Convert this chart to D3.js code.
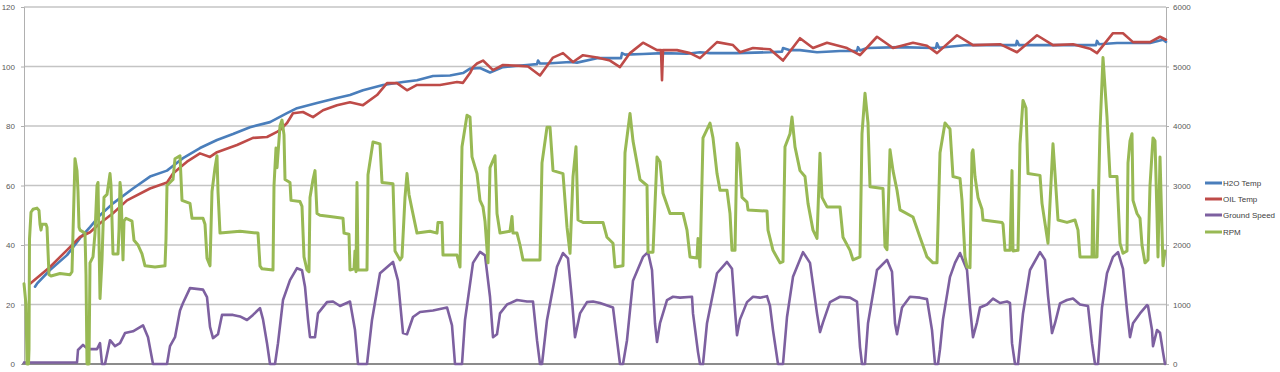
<!DOCTYPE html>
<html><head><meta charset="utf-8">
<script src="https://cdn.jsdelivr.net/npm/d3@7"></script>
<style>html,body{margin:0;padding:0;background:#fff;}svg{display:block;}</style>
</head><body>
<svg id="c" width="1280" height="372"></svg>
<script>
// ---- DATA (time index = sample number) ----
const seriesNames = ["H2O Temp", "OIL Temp", "Ground Speed", "RPM"];
const leftTicks = [0, 20, 40, 60, 80, 100, 120];
const rightTicks = [0, 1000, 2000, 3000, 4000, 5000, 6000];

const h2oT = [11,13,26,43,56,66,76,89,109,126,143,146,159,176,193,209,226,246,263,273,293,313,326,339,359,379,393,409,426,439,446,456,466,479,503,513,514,516,523,546,553,573,597,598,601,619,639,663,676,686,713,746,758,759,766,776,793,816,833,834,836,843,876,909,912,913,915,943,976,992,993,995,1009,1043,1072,1073,1075,1093,1126,1139,1142];
const h2oV = [26,27,31.6,36.6,42.3,46,50,54,59,63,65,65.8,69.2,72.6,75.3,77.3,79.6,81.3,84.3,86,87.7,89.4,90.4,92,93.8,94.8,95.4,96.8,97,97.8,99.3,99.5,98,99.8,100.5,100.8,102,101,101,101.5,101.3,102.8,102.8,104.5,104,104.2,104.5,104.3,104.8,104.5,104.5,104.8,105,106.2,105.5,105.5,104.8,105.2,105.2,106.5,105.4,106.2,106.5,106.2,106.2,107.8,106.3,107.2,107.2,107.2,108.6,107.2,107.2,107.2,107.2,108.6,107.5,107.9,107.9,109,108.3];

const oilT = [6,26,43,56,66,76,89,103,126,143,149,159,163,176,186,193,213,229,243,253,256,263,269,279,289,299,313,326,339,353,363,373,383,393,416,433,439,446,449,453,459,469,479,496,504,516,529,539,549,559,573,586,596,606,619,633,637,638,639,653,666,676,693,709,716,729,746,759,776,789,803,823,836,853,869,889,903,913,933,949,976,993,1013,1029,1049,1066,1073,1089,1099,1109,1126,1136,1142];
const oilV = [27,32.6,38.3,42.7,44.3,47.3,50.7,55,59,61,64,66.9,68,70.8,69.6,71.2,73.6,76,76.3,78,78.6,81,84.3,84.7,83,85.3,87,88,87,90.4,94.4,94.4,92,93.8,93.8,94.8,94.5,97.8,99.8,101,102,98.8,100.5,100.2,100,97,103,104.5,101.5,103.8,103,102,99.8,104.5,108,105.5,105.5,95.4,105.5,105.5,104.5,102.8,108.2,107.2,104.8,106.2,105.8,102,109.5,106.2,108,106.2,103.8,110,106.2,108,107,104.5,110.5,107.2,107.5,104.8,110.5,107.2,107.5,106,104.5,111.2,111.2,108.2,108.2,110,109];

const speedT = [0,53,54,59,64,73,76,78,81,86,91,96,101,109,119,124,129,143,146,151,156,159,166,179,183,186,189,194,198,209,216,223,229,236,239,243,246,251,254,259,266,273,278,281,284,286,291,294,303,309,316,326,331,334,343,348,356,369,374,379,383,389,396,409,423,428,431,438,441,449,456,461,466,469,473,476,483,493,503,509,513,516,518,523,533,539,544,548,551,556,563,569,576,589,593,596,599,603,609,619,624,628,631,633,636,643,649,656,668,669,674,676,679,683,693,703,708,711,713,716,723,729,736,743,746,749,754,759,763,769,779,786,793,796,799,806,816,826,833,836,838,841,844,853,863,868,871,873,878,886,896,903,908,911,914,916,919,926,931,936,943,946,949,953,956,963,969,976,983,986,988,991,994,999,1006,1016,1021,1024,1028,1031,1036,1043,1049,1056,1064,1068,1071,1074,1078,1083,1089,1094,1099,1103,1106,1109,1116,1123,1124,1128,1129,1133,1136,1139,1141];
const speedV = [0.5,0.5,4.7,6.4,5,5,7,0,0,8,6,7,10.4,11,13,9,0,0,6,9,18,20.5,25.5,25,22.5,12.5,8.7,10,16.5,16.5,16,14.8,16.5,18.8,15,7,0,0,7,21.5,28.2,32.2,31.5,26,15,9,9,17,20.8,21,19.5,21,11.4,0,0,14.8,30.5,34.3,28,10.4,10,15.8,17.5,18,19,13,0,0,14.8,34,37.7,36.5,22.6,9,10,17,20,21.5,21,21,8,0,0,14.8,32.7,37.3,35.5,21.5,9,17,20.8,21,20.5,19,8,0,0,8,28,36,37.6,31.6,13.7,7.4,13.7,21.5,22.6,22.3,22.6,17,4,0,0,13.7,30.5,34.3,32,18,9.7,15,20.8,22.6,22.3,22.8,19.5,11.4,0,0,15.8,29.3,37.6,34,17,10.7,14,20.8,22.6,22.3,21,5.7,0,0,13.7,31.6,35,31,13.7,10,19,22.6,22.3,21.8,11.4,0,0,5,15,29.3,34,37.3,31.6,19,9,14,19,20,22,20.5,21,20.5,7,0,0,17,31.6,37.6,35,23,10.4,13.7,20.4,21.5,22,20,19.5,7,0,0,19,30.5,36,37.6,32,18,9,13.7,17,19.8,19.5,11.4,6,11.4,10.5,4,0];

const rpmT = [0,2,3,4.5,5,5.5,7,9,13,15,16,17,18,22,23,25,27,36,46,48,49,51,53,54,55,56,61,62,63,65,66,69,71,73,74,76,78,80,83,86,87,89,94,95,96,97,99,100,102,108,110,114,118,121,131,141,142,143,146,149,151,156,158,166,168,179,181,183,186,188,191,193,194,196,216,234,236,238,249,250,252,253,256,258,260,261,266,267,276,278,280,283,285,286,289,291,293,296,306,319,320,325,326,330,331,332,333,334,343,344,349,356,358,369,371,376,378,381,383,385,388,393,406,413,414,418,419,433,436,438,443,446,448,453,456,459,461,464,466,471,473,476,486,488,489,493,496,499,516,518,523,526,529,539,543,546,549,552,554,559,579,583,589,591,599,601,606,609,616,623,624,629,633,636,639,646,659,663,666,673,674,676,679,686,689,693,696,703,706,708,711,713,715,718,723,724,743,744,749,756,759,761,766,768,771,776,781,784,789,793,796,798,803,816,819,826,829,836,838,841,844,846,859,861,863,866,869,873,876,889,896,903,909,913,916,921,926,929,936,938,941,943,946,948,949,951,954,958,959,978,979,981,986,988,989,994,996,999,1002,1004,1016,1018,1024,1028,1029,1031,1034,1043,1051,1054,1056,1068,1069,1070,1073,1076,1079,1083,1086,1093,1096,1099,1103,1104,1106,1108,1109,1113,1116,1118,1121,1124,1126,1129,1131,1133,1134,1136,1138,1139,1141];
const rpmV = [1350,1000,0,0,250,2100,2550,2600,2620,2580,2350,2250,2350,2350,2300,1500,1480,1520,1500,1550,2200,3450,3250,2900,2300,2250,2200,1500,0,0,1700,1800,2200,3000,3050,1100,1750,2800,2850,3200,3000,1850,1850,2250,3050,2900,1750,2400,2450,2400,2080,2000,1850,1650,1630,1650,2100,3000,3050,3100,3450,3500,2750,2700,2450,2450,2350,1780,1650,2900,3300,3500,2900,2200,2230,2200,1650,1600,1580,3000,3630,3300,4000,4100,3850,3100,3050,2750,2730,2650,1800,1580,1550,2800,3100,3250,2530,2500,2480,2450,2200,2180,1580,1600,1900,1550,3050,1580,1580,3180,3730,3700,3050,3030,1900,1750,1800,2800,3200,2850,2600,2200,2230,2200,2380,2380,1830,1830,1630,3650,4180,4150,3480,3200,2750,2640,2400,1700,3300,3500,2530,2200,2230,2480,2200,2200,2000,1750,1750,3380,3980,3980,3250,3200,2300,1860,3150,3650,2420,2380,2380,2130,2030,1630,1650,3550,4210,3750,3100,3000,1880,1880,3480,3400,2870,2530,2530,2250,1800,1780,2110,1630,3800,4050,3800,3200,2920,2920,2530,1910,1910,3710,3600,2800,2720,2590,2570,2250,1910,1700,1720,3650,3870,4150,3650,3250,3150,2700,2250,2110,3540,2800,2640,2640,2130,1910,1750,1800,3870,4550,4050,2980,2950,1970,1920,3600,3250,2920,2590,2470,2130,1800,1700,1700,3550,4050,3950,3150,3120,2750,1800,1630,1620,3550,3600,3150,2800,2600,2420,2380,2350,1910,1910,3250,1900,1910,3700,4430,4300,3200,3170,2700,2030,3380,3700,3200,2420,2380,2420,2250,1800,1800,2920,1800,1800,3930,5150,4150,3150,3150,2030,1860,1900,3380,3750,3870,2750,2530,2450,2000,1700,1750,3000,3800,3750,2500,1800,3480,2250,1650,1900];

const colors = ["#4a7ebb", "#be4b48", "#7d60a0", "#98b954"];
const FONT = "8px 'Liberation Sans', Arial, sans-serif";

// ---- CHART ----
const svg = d3.select("#c");
const L = 24, R = 1166, T = 7, B = 364;
const x = d3.scaleLinear().domain([0, 1142]).range([L, R]);
const yL = d3.scaleLinear().domain([0, 120]).range([B, T]);
const yR = d3.scaleLinear().domain([0, 6000]).range([B, T]);

// gridlines
svg.append("g").selectAll("line").data(leftTicks.filter(d => d > 0)).join("line")
  .attr("x1", L).attr("x2", R).attr("y1", d => yL(d)).attr("y2", d => yL(d))
  .attr("stroke", "#c4c4c4").attr("stroke-width", 1.5);

// left axis
const gL = svg.append("g").attr("transform", `translate(${L},0)`)
  .call(d3.axisLeft(yL).tickValues(leftTicks).tickFormat(d3.format("d")).tickSize(3).tickPadding(6));
gL.select(".domain").attr("stroke", "#b0b0b0");
gL.selectAll(".tick line").attr("stroke", "#b0b0b0");
gL.selectAll("text").attr("fill", "#595959").style("font", FONT);

// right axis
const gR = svg.append("g").attr("transform", `translate(${R},0)`)
  .call(d3.axisRight(yR).tickValues(rightTicks).tickFormat(d3.format("d")).tickSize(3).tickPadding(4));
gR.select(".domain").attr("stroke", "#b0b0b0");
gR.selectAll(".tick line").attr("stroke", "#b0b0b0");
gR.selectAll("text").attr("fill", "#595959").style("font", FONT);

// bottom axis line
svg.append("line").attr("x1", L - 2).attr("x2", R).attr("y1", B).attr("y2", B)
  .attr("stroke", "#8c8c8c").attr("stroke-width", 2);

function lineFor(ts, vs, ys, color, w) {
  const pts = ts.map((t, i) => [t, vs[i]]);
  svg.append("path").datum(pts)
    .attr("fill", "none").attr("stroke", color).attr("stroke-width", w)
    .attr("stroke-linejoin", "round").attr("stroke-linecap", "round")
    .attr("d", d3.line().x(d => x(d[0])).y(d => ys(d[1])));
}
lineFor(h2oT, h2oV, yL, colors[0], 2.6);
lineFor(oilT, oilV, yL, colors[1], 2.6);
lineFor(speedT, speedV, yL, colors[2], 2.6);
lineFor(rpmT, rpmV, yR, colors[3], 3);

// legend
const lg = svg.append("g");
const legY = [183, 199, 215, 232];
seriesNames.forEach((n, i) => {
  lg.append("line").attr("x1", 1205).attr("x2", 1222).attr("y1", legY[i]).attr("y2", legY[i])
    .attr("stroke", colors[i]).attr("stroke-width", 3);
  lg.append("text").attr("x", 1223).attr("y", legY[i] + 3).text(n)
    .attr("fill", "#404040").style("font", FONT);
});
</script>
</body></html>
